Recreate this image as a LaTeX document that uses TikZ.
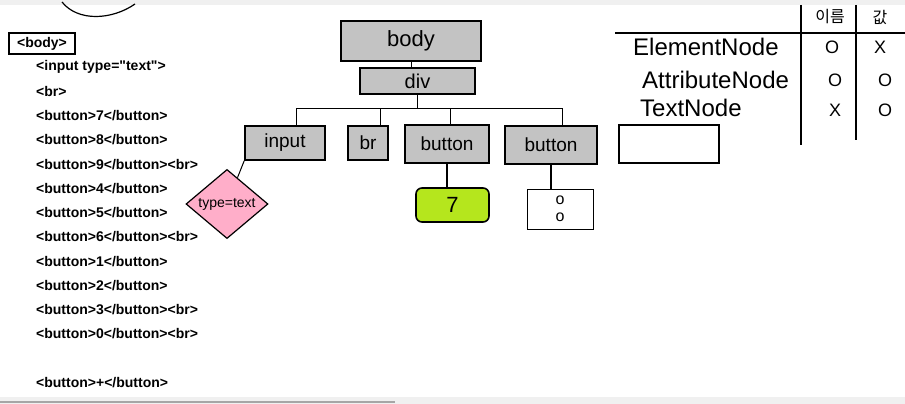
\documentclass[tikz,border=0pt]{standalone}
\usepackage{fontspec}
\setsansfont{Liberation Sans}
\newfontfamily\krfont{Noto Sans CJK KR}
\usetikzlibrary{shapes.geometric, positioning}
\definecolor{PaintGrey}{RGB}{195,195,195}
\definecolor{PaintPink}{RGB}{255,174,201}
\definecolor{PaintLime}{RGB}{181,230,29}
\definecolor{BarGrey}{RGB}{240,240,240}

\begin{document}
\begin{tikzpicture}[x=1pt, y=-1pt,
    code/.style={anchor=west, inner sep=0pt, font=\sffamily\bfseries\fontsize{14}{16}\selectfont},
    elem/.style={draw, line width=1.6pt, fill=PaintGrey, inner sep=0pt, font=\sffamily\fontsize{19}{21}\selectfont},
    hand/.style={inner sep=0pt, font=\sffamily\fontsize{24}{26}\selectfont},
    tick/.style={inner sep=0pt, font=\sffamily\fontsize{18}{20}\selectfont},
    link/.style={line width=1pt}]
    \useasboundingbox (0,0) rectangle (905,404);
    % Window bars
    \fill[BarGrey] (0,0) rectangle (905,5);
    \fill[BarGrey] (0,397) rectangle (905,404);
    \draw[gray!70, line width=1.5pt] (0,402) -- (395,402);
    \draw[line width=1.2pt] (62,2) .. controls (78,22) and (112,20) .. (135,4);
    % HTML source
    \node[draw, line width=1.6pt, inner sep=0pt, minimum width=66pt, minimum height=21pt,
      font=\sffamily\bfseries\fontsize{14}{16}\selectfont] (bodytag) at (42,43.5) {<body>};
    \foreach \t [count=\k] in {{<input type=\textquotedbl text\textquotedbl>},{<br>},{<button>7</button>},
        {<button>8</button>},{<button>9</button><br>},{<button>4</button>},
        {<button>5</button>},{<button>6</button><br>},{<button>1</button>},
        {<button>2</button>},{<button>3</button><br>},{<button>0</button><br>},
        {},{<button>+</button>}}{
      \node[code] (src\k) at (36,{67+(\k-1)*24.27}) {\t};
    }
    % DOM tree
    \node[elem, minimum width=140pt, minimum height=40pt, font=\sffamily\fontsize{22}{24}\selectfont] (body) at (411,41) {body};
    \node[elem, minimum width=115pt, minimum height=26pt, font=\sffamily\fontsize{20}{22}\selectfont] (div) at (417.5,81) {div};
    \node[elem, minimum width=80pt, minimum height=34pt] (input) at (285,143) {input};
    \node[elem, minimum width=40pt, minimum height=34pt] (br) at (368,143) {br};
    \node[elem, minimum width=84pt, minimum height=38pt] (btnA) at (447,144) {button};
    \node[elem, minimum width=92pt, minimum height=38pt] (btnB) at (551,145) {button};
    \node[draw, line width=1.6pt, minimum width=100pt, minimum height=38pt] (blank) at (669,144) {};
    \node[diamond, draw, fill=PaintPink, line width=1.2pt, minimum width=82pt, minimum height=64pt,
      inner sep=0pt, font=\sffamily\fontsize{14}{16}\selectfont] (attr) at (227,204) {type=text};
    \node[draw, rounded corners=6pt, fill=PaintLime, line width=1.6pt, minimum width=73pt,
      minimum height=34pt, font=\sffamily\fontsize{22}{24}\selectfont] (seven) at (452.5,205) {7};
    \node[draw, line width=1pt, minimum width=66pt, minimum height=40pt, inner sep=0pt, align=center,
      font=\sffamily\fontsize{16}{17}\selectfont] (zero) at (560,209) {o\\o};
    \draw[link] (body.south) -- (body.south |- div.north);
    \draw[link] (div.south) -- ++(0,14) coordinate (fork);
    \foreach \n/\dx in {input/11,br/12,btnA/3,btnB/11}
      \draw[link] (fork) -| ([xshift=\dx pt]\n.north);
    \draw[link] (input.south west) -- (attr);
    \draw[line width=2.5pt] (btnA.south) -- (btnA.south |- seven.north);
    \draw[line width=2.5pt] (btnB.south) -- (btnB.south |- zero.north);
    % Node type table
    \draw[line width=1.8pt] (615,33) -- (905,33);
    \draw[line width=1.8pt] (801,5) -- (801,145);
    \draw[line width=1.8pt] (856,5) -- (856,140);
    \node[inner sep=0pt, font=\krfont\fontsize{16}{18}\selectfont] (hname) at (830,17) {이름};
    \node[inner sep=0pt, font=\krfont\fontsize{16}{18}\selectfont] (hvalue) at (880,17) {값};
    \node[hand, anchor=west] (rowEl) at (633,47) {ElementNode};
    \node[hand, anchor=west] (rowAt) at (642,80) {AttributeNode};
    \node[hand, anchor=west] (rowTx) at (640,108) {TextNode};
    \node[tick] (elName) at (832,47) {O};
    \node[tick] (elVal) at (880,47) {X};
    \node[tick] (atName) at (835,80) {O};
    \node[tick] (atVal) at (885,80) {O};
    \node[tick] (txName) at (835,110) {X};
    \node[tick] (txVal) at (885,110) {O};
  \end{tikzpicture}
\end{document}
